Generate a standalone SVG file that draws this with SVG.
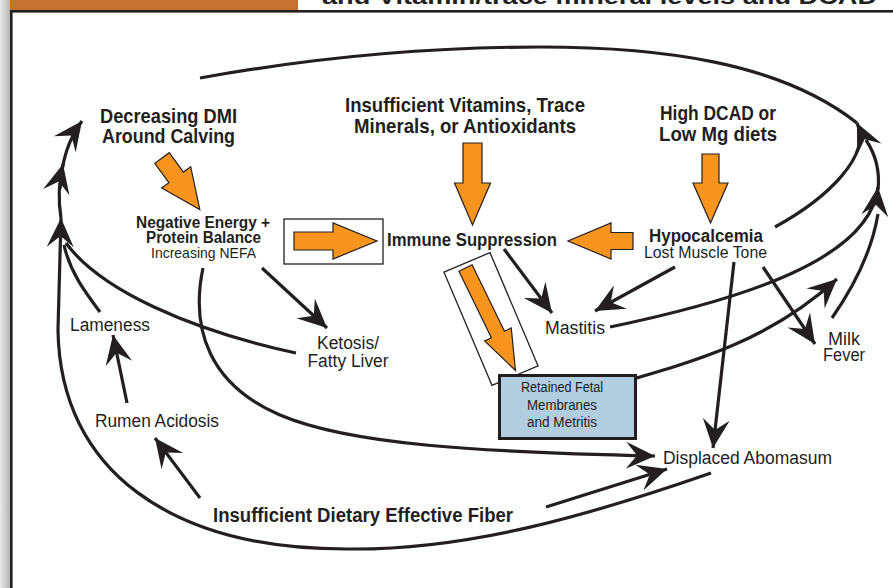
<svg xmlns="http://www.w3.org/2000/svg" width="893" height="588" viewBox="0 0 893 588">
<defs>
<style>
.ln{fill:none;stroke:#231f20;stroke-width:3.2;stroke-linecap:butt}
.ma{marker-end:url(#ah)}
.oa{fill:#f7941d;stroke:#231f20;stroke-width:1.2;stroke-linejoin:miter}
.bx{fill:#fff;stroke:#231f20;stroke-width:1.3}
.b{font-family:"Liberation Sans",Arial,sans-serif;font-weight:bold;fill:#231f20;text-anchor:middle}
.r{font-family:"Liberation Sans",Arial,sans-serif;fill:#231f20;text-anchor:middle}
</style>
<linearGradient id="edge" x1="0" y1="0" x2="1" y2="0">
<stop offset="0" stop-color="#e8e8e8"/><stop offset="1" stop-color="#b5b5b5"/>
</linearGradient>
<marker id="ah" viewBox="-30 -16 32 32" refX="0" refY="0" markerWidth="32" markerHeight="32" markerUnits="userSpaceOnUse" orient="auto" overflow="visible">
<path d="M0,0 L-29,-13.5 L-18,0 L-29,13.5 Z" fill="#231f20"/>
</marker>
</defs>
<rect width="893" height="588" fill="#fff"/>
<g id="frame">
<rect x="0" y="0" width="10" height="588" fill="url(#edge)"/>
<rect x="10" y="0" width="288" height="10" fill="#c5722f"/>
<rect x="10" y="10" width="883" height="2.6" fill="#231f20"/>
<rect x="10" y="10" width="2.6" height="578" fill="#231f20"/>
<text class="b" x="599.5" y="4" font-size="22" textLength="555" lengthAdjust="spacingAndGlyphs">and Vitamin/trace mineral levels and DCAD</text>
</g>
<g id="connectors">
<path class="ln" d="M200,78 C300,60 420,47 540,47 C660,47 780,62 857,123"/>
<path class="ln ma" d="M775,227 C828,198 872,155 857,123"/>
<path class="ln" d="M878,190 C880,172 876,155 866,140"/>
<path class="ln ma" d="M610,327 C740,300 870,260 878,187"/>
<path class="ln" d="M832,318 C855,285 872,250 878,214"/>
<path class="ln ma" d="M612,385 C700,360 770,340 837,279"/>
<path class="ln ma" d="M763,267 L815,344"/>
<path class="ln ma" d="M675,267 L595,311"/>
<path class="ln ma" d="M504,249 L552,313"/>
<path class="ln ma" d="M734,262 L713,448"/>
<path class="ln ma" d="M262,268 L327,328"/>
<path class="ln ma" d="M203,268 C190,330 210,385 280,415 C350,445 480,452 655,456"/>
<path class="ln" d="M296,353 C190,330 100,290 66,243"/>
<path class="ln" d="M100,312 C85,292 70,272 64,245"/>
<path class="ln ma" d="M711,473 C590,515 470,550 350,549 C170,550 60,470 58,330 L61,218"/>
<path class="ln ma" d="M61,218 C58,200 58,185 63,164"/>
<path class="ln ma" d="M60,189 C62,160 68,140 82,121"/>
<path class="ln ma" d="M200,498 L155,438"/>
<path class="ln ma" d="M127,403 L113,335"/>
<path class="ln ma" d="M546,507 L667,469"/>
</g>
<g id="orange-arrows">
<polygon class="oa" transform="translate(162,158) rotate(53.8)" points="0,-9 24,-9 24,-18 64,0 24,18 24,9 0,9"/>
<polygon class="oa" transform="translate(472.5,143) rotate(90)" points="0,-9.5 40,-9.5 40,-18 82,0 40,18 40,9.5 0,9.5"/>
<polygon class="oa" transform="translate(710.5,154) rotate(90)" points="0,-8.5 29,-8.5 29,-17.5 69,0 29,17.5 29,8.5 0,8.5"/>
<polygon class="oa" transform="translate(633,241) rotate(180)" points="0,-8.5 22,-8.5 22,-18 65,0 22,18 22,8.5 0,8.5"/>
<rect class="bx" x="284" y="219" width="99" height="45"/>
<polygon class="oa" transform="translate(294,241)" points="0,-9 39,-9 39,-18 83,0 39,18 39,9 0,9"/>
<rect class="bx" transform="translate(491,319) rotate(67)" x="-61.5" y="-25" width="123" height="50"/>
<polygon class="oa" transform="translate(465.5,268) rotate(64)" points="0,-7.3 74,-7.3 74,-14.8 114,0 74,14.8 74,7.3 0,7.3"/>
</g>
<g id="decreasing-dmi">
<text class="b" x="168.5" y="123" font-size="21" textLength="137" lengthAdjust="spacingAndGlyphs">Decreasing DMI</text>
<text class="b" x="168.5" y="143" font-size="21" textLength="133" lengthAdjust="spacingAndGlyphs">Around Calving</text>
</g>
<g id="vitamins">
<text class="b" x="465" y="112" font-size="21" textLength="240" lengthAdjust="spacingAndGlyphs">Insufficient Vitamins, Trace</text>
<text class="b" x="465" y="133" font-size="21" textLength="222" lengthAdjust="spacingAndGlyphs">Minerals, or Antioxidants</text>
</g>
<g id="dcad">
<text class="b" x="718" y="120" font-size="20" textLength="116" lengthAdjust="spacingAndGlyphs">High DCAD or</text>
<text class="b" x="718" y="141" font-size="20" textLength="118" lengthAdjust="spacingAndGlyphs">Low Mg diets</text>
</g>
<g id="hypocalcemia">
<text class="b" x="706" y="242" font-size="18" textLength="114" lengthAdjust="spacingAndGlyphs">Hypocalcemia</text>
<text class="r" x="705.5" y="257.5" font-size="17" textLength="123" lengthAdjust="spacingAndGlyphs">Lost Muscle Tone</text>
</g>
<g id="negative-energy">
<text class="b" x="203" y="227.5" font-size="16" textLength="134" lengthAdjust="spacingAndGlyphs">Negative Energy +</text>
<text class="b" x="203.5" y="243" font-size="16" textLength="115" lengthAdjust="spacingAndGlyphs">Protein Balance</text>
<text class="r" x="203.5" y="257.5" font-size="15" textLength="105" lengthAdjust="spacingAndGlyphs">Increasing NEFA</text>
</g>
<g id="immune">
<text class="b" x="472" y="246" font-size="19" textLength="170" lengthAdjust="spacingAndGlyphs">Immune Suppression</text>
</g>
<g id="ketosis">
<text class="r" x="348" y="349" font-size="18" textLength="62" lengthAdjust="spacingAndGlyphs">Ketosis/</text>
<text class="r" x="348" y="367" font-size="18" textLength="81" lengthAdjust="spacingAndGlyphs">Fatty Liver</text>
</g>
<g id="lameness">
<text class="r" x="110" y="331" font-size="18" textLength="80" lengthAdjust="spacingAndGlyphs">Lameness</text>
</g>
<g id="rumen">
<text class="r" x="157" y="427" font-size="18" textLength="124" lengthAdjust="spacingAndGlyphs">Rumen Acidosis</text>
</g>
<g id="fiber">
<text class="b" x="363" y="522" font-size="20" textLength="300" lengthAdjust="spacingAndGlyphs">Insufficient Dietary Effective Fiber</text>
</g>
<g id="mastitis">
<text class="r" x="575" y="334" font-size="18" textLength="60" lengthAdjust="spacingAndGlyphs">Mastitis</text>
</g>
<g id="milk-fever">
<text class="r" x="844" y="345" font-size="18" textLength="32" lengthAdjust="spacingAndGlyphs">Milk</text>
<text class="r" x="844" y="361" font-size="18" textLength="42" lengthAdjust="spacingAndGlyphs">Fever</text>
</g>
<g id="displaced">
<text class="r" x="747.5" y="464" font-size="18" textLength="169" lengthAdjust="spacingAndGlyphs">Displaced Abomasum</text>
</g>
<g id="rfm">
<rect x="499.5" y="375.5" width="136" height="63" fill="#b3cde0" stroke="#231f20" stroke-width="3"/>
<text class="r" x="562" y="392" font-size="14" textLength="82" lengthAdjust="spacingAndGlyphs">Retained Fetal</text>
<text class="r" x="562" y="410" font-size="14" textLength="70" lengthAdjust="spacingAndGlyphs">Membranes</text>
<text class="r" x="562" y="427" font-size="14" textLength="70" lengthAdjust="spacingAndGlyphs">and Metritis</text>
</g>
</svg>
